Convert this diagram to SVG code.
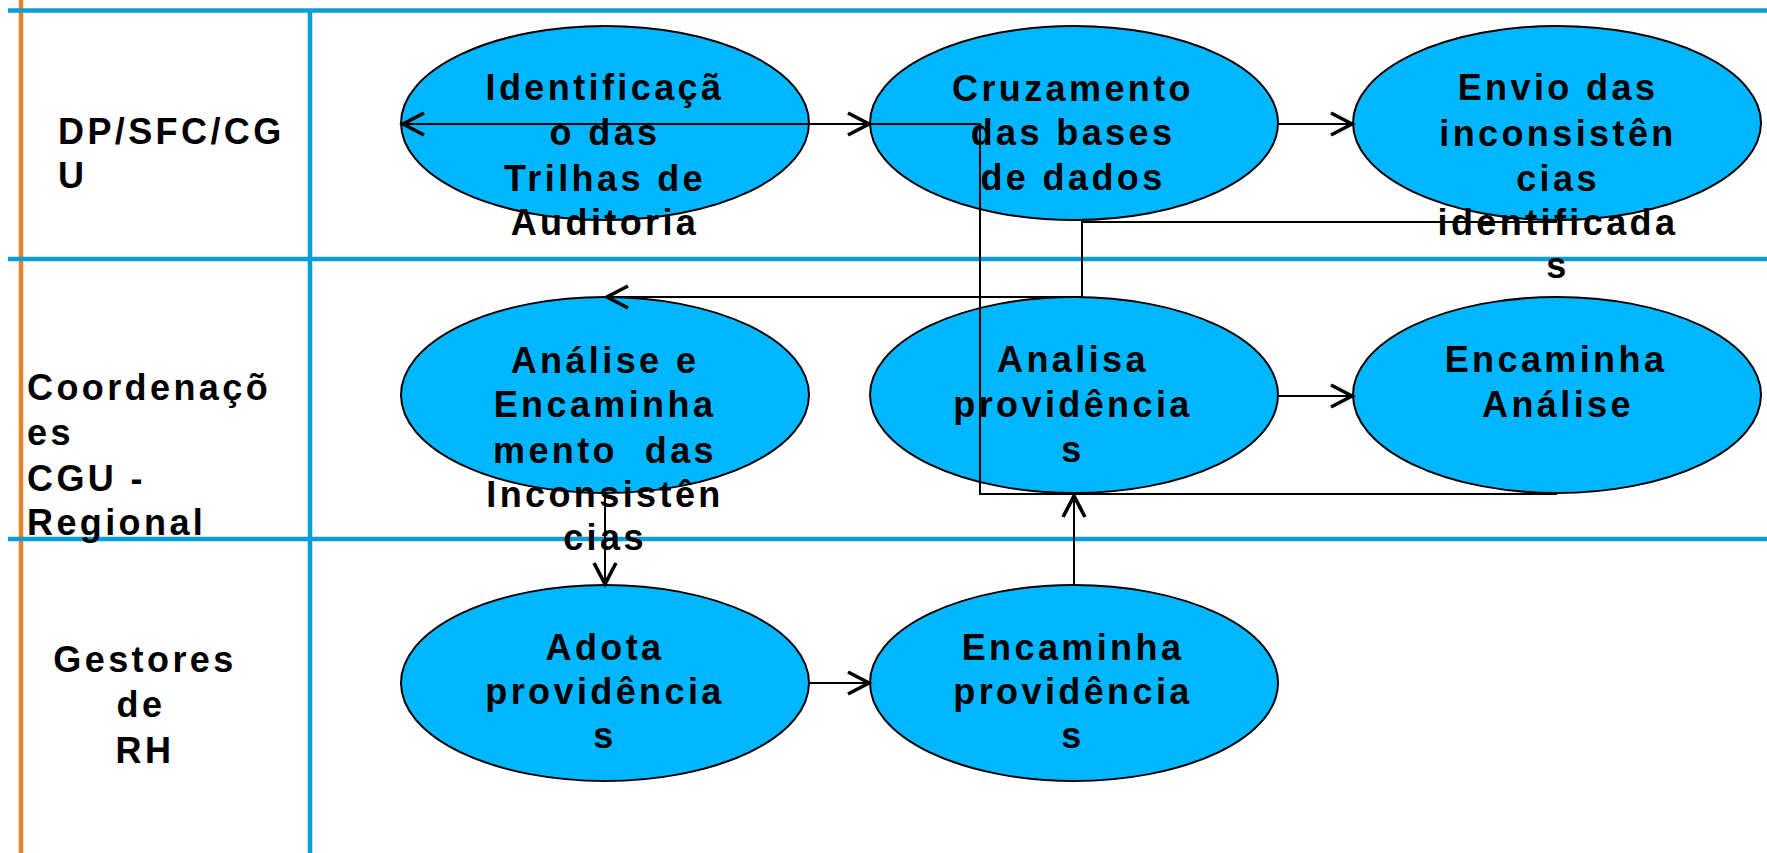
<svg xmlns="http://www.w3.org/2000/svg" width="1767" height="853" viewBox="0 0 1767 853">
<defs>
<style>
.lane{stroke:#0A9ED9;stroke-width:4.5;fill:none}
.node ellipse{fill:#00B7FF;stroke:#000;stroke-width:2}
text{font-family:"Liberation Sans",Arial,sans-serif;font-size:36px;font-weight:700;fill:#000;letter-spacing:3.4px;white-space:pre}
.c{text-anchor:middle}
.conn{stroke:#000;stroke-width:2;fill:none}
</style>
<marker id="ah" markerUnits="userSpaceOnUse" markerWidth="30" markerHeight="30" viewBox="-25 -15 30 30" refX="0" refY="0" orient="auto" overflow="visible">
<path d="M-21,-11 L0,0 L-21,11" fill="none" stroke="#000" stroke-width="3.6"/>
</marker>
</defs>
<rect width="1767" height="853" fill="#fff"/>
<g id="lanes">
<line x1="21" y1="0" x2="21" y2="853" stroke="#E8822A" stroke-width="4.5"/>
<line class="lane" x1="8" y1="10.5" x2="1767" y2="10.5"/>
<line class="lane" x1="8" y1="259" x2="1767" y2="259"/>
<line class="lane" x1="8" y1="539" x2="1767" y2="539"/>
<line class="lane" x1="310" y1="10" x2="310" y2="853"/>
</g>
<g id="lane-labels">
<g id="lane1"><text x="58" y="144">DP/SFC/CG</text><text x="58" y="188">U</text></g>
<g id="lane2"><text x="27" y="400">Coordenaçõ</text><text x="27" y="445">es</text><text x="27" y="491">CGU -</text><text x="27" y="535">Regional</text></g>
<g id="lane3" class="c"><text class="c" x="145" y="672">Gestores</text><text class="c" x="141" y="717">de</text><text class="c" x="145" y="763">RH</text></g>
</g>
<g id="n1" class="node"><ellipse cx="605" cy="123" rx="204" ry="97"/>
<text class="c" x="605" y="100">Identificaçã</text><text class="c" x="605" y="145">o das</text><text class="c" x="605" y="191">Trilhas de</text><text class="c" x="605" y="235">Auditoria</text></g>
<g id="n2" class="node"><ellipse cx="1074" cy="123" rx="204" ry="97"/>
<text class="c" x="1073" y="101">Cruzamento</text><text class="c" x="1073" y="145">das bases</text><text class="c" x="1073" y="190">de dados</text></g>
<g id="n3" class="node"><ellipse cx="1557" cy="123" rx="204" ry="97"/>
<text class="c" x="1558" y="100">Envio das</text><text class="c" x="1558" y="146">inconsistên</text><text class="c" x="1558" y="191">cias</text><text class="c" x="1558" y="235">identificada</text><text class="c" x="1558" y="278">s</text></g>
<g id="n4" class="node"><ellipse cx="605" cy="395" rx="204" ry="98"/>
<text class="c" x="605" y="373">Análise e</text><text class="c" x="605" y="417">Encaminha</text><text class="c" x="605" y="463">mento  das</text><text class="c" x="605" y="507">Inconsistên</text><text class="c" x="605" y="550">cias</text></g>
<g id="n5" class="node"><ellipse cx="1074" cy="395" rx="204" ry="98"/>
<text class="c" x="1073" y="372">Analisa</text><text class="c" x="1073" y="417">providência</text><text class="c" x="1073" y="462">s</text></g>
<g id="n6" class="node"><ellipse cx="1557" cy="395" rx="204" ry="98"/>
<text class="c" x="1556" y="372">Encaminha</text><text class="c" x="1558" y="417">Análise</text></g>
<g id="n7" class="node"><ellipse cx="605" cy="683" rx="204" ry="98"/>
<text class="c" x="605" y="660">Adota</text><text class="c" x="605" y="704">providência</text><text class="c" x="605" y="748">s</text></g>
<g id="n8" class="node"><ellipse cx="1074" cy="683" rx="204" ry="98"/>
<text class="c" x="1073" y="660">Encaminha</text><text class="c" x="1073" y="704">providência</text><text class="c" x="1073" y="748">s</text></g>
<g id="connectors">
<path class="conn" d="M1557,494 H980 V124 H403" marker-end="url(#ah)"/>
<path class="conn" d="M809,124 H869" marker-end="url(#ah)"/>
<path class="conn" d="M1278,124 H1352" marker-end="url(#ah)"/>
<path class="conn" d="M1557,222 H1082 V297 H607" marker-end="url(#ah)"/>
<path class="conn" d="M1278,396 H1352" marker-end="url(#ah)"/>
<path class="conn" d="M605,493 V584" marker-end="url(#ah)"/>
<path class="conn" d="M809,683 H869" marker-end="url(#ah)"/>
<path class="conn" d="M1074,585 V496" marker-end="url(#ah)"/>
</g>
</svg>
